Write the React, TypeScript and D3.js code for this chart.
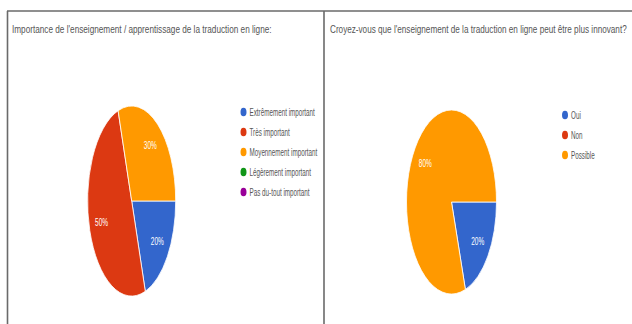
import React, { useLayoutEffect, useRef, useState } from "react";
import * as d3 from "d3";

const W = 632;
const H = 324;

const leftTitle = "Importance de l'enseignement / apprentissage de la traduction en ligne:";
const leftCategories = [
  "Extrêmement important",
  "Très important",
  "Moyennement important",
  "Légèrement important",
  "Pas du-tout important",
];
const leftValues = [20, 50, 30, 0, 0];

const rightTitle = "Croyez-vous que l'enseignement de la traduction en ligne peut être plus innovant?";
const rightCategories = ["Oui", "Non", "Possible"];
const rightValues = [20, 0, 80];

const palette = ["#3366cc", "#dc3912", "#ff9900", "#109618", "#990099"];

function FitText({ x, y, width, children }: { x: number; y: number; width: number; children: string }) {
  const ref = useRef<SVGTextElement>(null);
  const [k, setK] = useState(0.72);
  useLayoutEffect(() => {
    if (ref.current) {
      const len = ref.current.getComputedTextLength();
      if (len > 0) setK(width / len);
    }
  }, [width, children]);
  return (
    <text
      ref={ref}
      transform={`translate(${x},${y}) scale(${k},1)`}
      fontFamily="'Liberation Sans', Arial, sans-serif"
      fontSize={11}
      fill="#555"
    >
      {children}
    </text>
  );
}

type PanelProps = {
  title: string;
  titleX: number;
  titleLen: number;
  categories: string[];
  values: number[];
  cx: number;
  cy: number;
  rx: number;
  ry: number;
  legendX: number;
  legendY: number;
};

function PiePanel(p: PanelProps) {
  const pie = d3
    .pie<number>()
    .sort(null)
    .startAngle(Math.PI / 2)
    .endAngle(Math.PI / 2 + 2 * Math.PI)
    .value((d) => d);
  const arcs = pie(p.values);
  const arc = d3.arc<d3.PieArcDatum<number>>().innerRadius(0).outerRadius(p.ry);
  const labelArc = d3
    .arc<d3.PieArcDatum<number>>()
    .innerRadius(p.ry * 0.72)
    .outerRadius(p.ry * 0.72);
  const sx = p.rx / p.ry;
  const total = d3.sum(p.values);
  const color = d3.scaleOrdinal<string, string>().domain(p.categories).range(palette);
  const legendY = d3
    .scalePoint<string>()
    .domain(p.categories)
    .range([p.legendY, p.legendY + 20 * (p.categories.length - 1)]);

  return (
    <g>
      <FitText x={p.titleX} y={33} width={p.titleLen}>
        {p.title}
      </FitText>
      <g transform={`translate(${p.cx},${p.cy}) scale(${sx},1)`}>
        {arcs.map((a, i) =>
          a.value > 0 ? (
            <path
              key={i}
              d={arc(a) || ""}
              fill={color(p.categories[i])}
              stroke="#fff"
              strokeWidth={0.8}
              vectorEffect="non-scaling-stroke"
            />
          ) : null
        )}
      </g>
      {arcs.map((a, i) => {
        if (a.value <= 0) return null;
        const [lx, ly] = labelArc.centroid(a);
        return (
          <text
            key={"l" + i}
            transform={`translate(${p.cx + lx * sx},${p.cy + ly}) scale(0.62,1)`}
            textAnchor="middle"
            dominantBaseline="central"
            fontFamily="'Liberation Sans', Arial, sans-serif"
            fontSize={10.5}
            fill="#fff"
          >
            {`${Math.round((a.value / total) * 100)}%`}
          </text>
        );
      })}
      {p.categories.map((c) => (
        <g key={c} transform={`translate(${p.legendX},${legendY(c)})`}>
          <ellipse cx={0} cy={0} rx={3} ry={4.3} fill={color(c)} />
          <text
            transform={`translate(6,0) scale(0.6,1)`}
            dominantBaseline="central"
            fontFamily="'Liberation Sans', Arial, sans-serif"
            fontSize={10.5}
            fill="#555"
          >
            {c}
          </text>
        </g>
      ))}
    </g>
  );
}

export default function App() {
  return (
    <svg
      width={W}
      height={H}
      style={{ position: "absolute", left: 0, top: 0, display: "block", background: "#fff" }}
    >
      <rect x={0} y={0} width={W} height={H} fill="#fff" />
      <line x1={7} y1={11} x2={W} y2={11} stroke="#6a6a6a" strokeWidth={1.6} />
      <line x1={7.5} y1={11} x2={7.5} y2={H} stroke="#6a6a6a" strokeWidth={1.6} />
      <line x1={324} y1={11} x2={324} y2={H} stroke="#6a6a6a" strokeWidth={1.6} />
      <PiePanel
        title={leftTitle}
        titleX={12}
        titleLen={260}
        categories={leftCategories}
        values={leftValues}
        cx={131.7}
        cy={201}
        rx={44}
        ry={95}
        legendX={243.5}
        legendY={112}
      />
      <PiePanel
        title={rightTitle}
        titleX={330}
        titleLen={297}
        categories={rightCategories}
        values={rightValues}
        cx={451.5}
        cy={202}
        rx={45}
        ry={92}
        legendX={565}
        legendY={115}
      />
    </svg>
  );
}
